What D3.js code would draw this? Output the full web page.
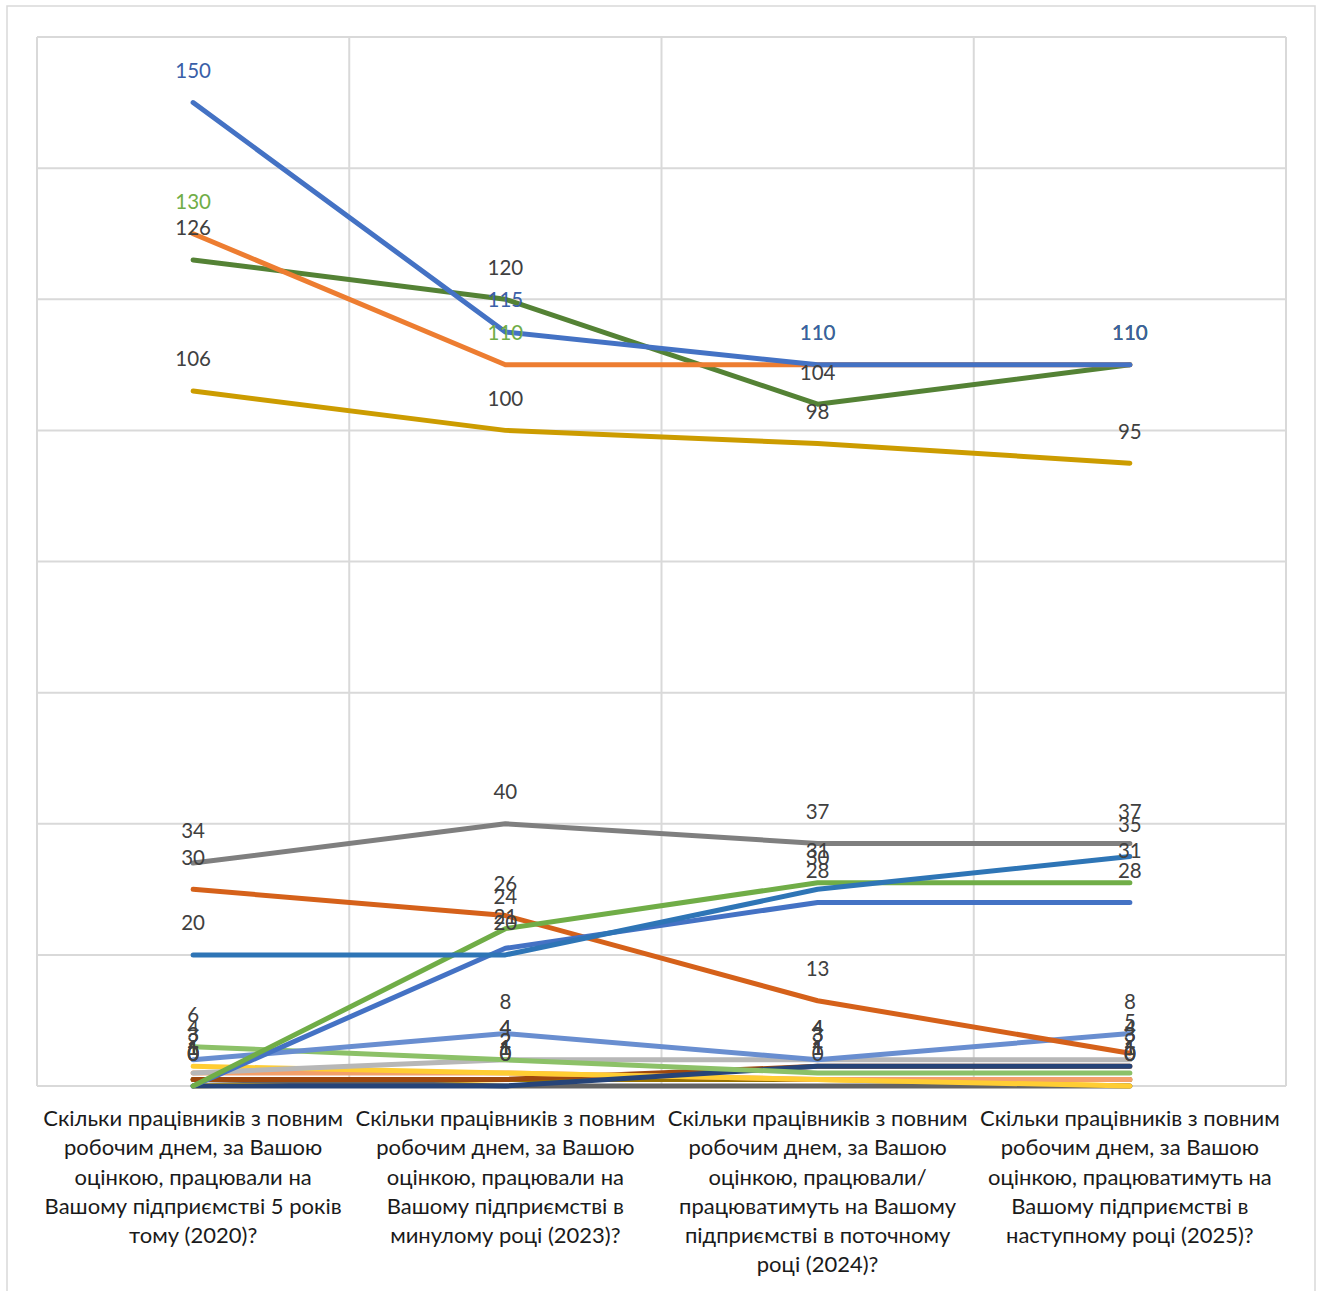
<!DOCTYPE html>
<html>
<head>
<meta charset="utf-8">
<script src="https://cdn.jsdelivr.net/npm/d3@7"></script>
<style>
  html, body { margin: 0; padding: 0; background: #fff; }
  svg { display: block; }
  text { font-family: Lato, "Noto Sans", sans-serif; }
</style>
</head>
<body>
<div id="chart"></div>
<script>
// ---- data ----
const categories = [
  ["Скільки працівників з повним", "робочим днем, за Вашою", "оцінкою, працювали на", "Вашому підприємстві 5 років", "тому (2020)?"],
  ["Скільки працівників з повним", "робочим днем, за Вашою", "оцінкою, працювали на", "Вашому підприємстві в", "минулому році (2023)?"],
  ["Скільки працівників з повним", "робочим днем, за Вашою", "оцінкою, працювали/", "працюватимуть на Вашому", "підприємстві в поточному", "році (2024)?"],
  ["Скільки працівників з повним", "робочим днем, за Вашою", "оцінкою, працюватимуть на", "Вашому підприємстві в", "наступному році (2025)?"]
];

const yTicks = [0, 20, 40, 60, 80, 100, 120, 140, 160];

// series values (one array per series)
const seriesA = [150, 115, 110, 110];
const seriesB = [130, 110, 110, 110];
const seriesC = [126, 120, 104, 110];
const seriesD = [106, 100, 98, 95];
const seriesE = [34, 40, 37, 37];
const seriesF = [30, 26, 13, 5];
const seriesG = [20, 20, 30, 35];
const seriesH = [0, 24, 31, 31];
const seriesI = [0, 21, 28, 28];
const seriesJ = [4, 8, 4, 8];
const seriesK = [6, 4, 2, 2];
const seriesL = [2, 4, 4, 4];
const seriesM = [3, 2, 1, 0];
const seriesN = [2, 2, 1, 1];
const seriesO = [1, 1, 3, 3];
const seriesP = [0, 0, 3, 3];
const seriesQ = [1, 1, 1, 1];
const seriesR = [1, 0, 0, 0];
const seriesS = [0, 1, 1, 0];

// drawing order (first drawn = bottom) with colours kept separately
const seriesList = [
  { values: seriesS, color: "#FFC000", label: "#404040" },
  { values: seriesR, color: "#636363", label: "#404040" },
  { values: seriesQ, color: "#997300", label: "#404040" },
  { values: seriesO, color: "#9E480E", label: "#404040" },
  { values: seriesN, color: "#F4A06A", label: "#404040" },
  { values: seriesM, color: "#FFCD33", label: "#404040" },
  { values: seriesP, color: "#264478", label: "#404040" },
  { values: seriesL, color: "#B7B7B7", label: "#404040" },
  { values: seriesK, color: "#8CC168", label: "#404040" },
  { values: seriesJ, color: "#698ED0", label: "#404040" },
  { values: seriesF, color: "#D5611A", label: "#404040" },
  { values: seriesI, color: "#4472C4", label: "#404040" },
  { values: seriesH, color: "#70AD47", label: "#404040" },
  { values: seriesG, color: "#2E75B6", label: "#404040" },
  { values: seriesE, color: "#7F7F7F", label: "#404040" },
  { values: seriesD, color: "#CC9C00", label: "#404040" },
  { values: seriesC, color: "#548235", label: "#404040" },
  { values: seriesB, color: "#ED7D31", label: "#70AD47" },
  { values: seriesA, color: "#4472C4", label: "#3A5FA8" }
];

// ---- layout ----
const W = 1319, H = 1291;
const plot = { left: 37, top: 37, right: 1286, bottom: 1086 };

const svg = d3.select("#chart").append("svg")
  .attr("width", W).attr("height", H);

svg.append("rect").attr("width", W).attr("height", H).attr("fill", "#fff");

// outer chart border
svg.append("rect")
  .attr("x", 7).attr("y", 6)
  .attr("width", 1315 - 7).attr("height", 1300)
  .attr("fill", "none").attr("stroke", "#D9D9D9").attr("stroke-width", 1.5);

const x = d3.scaleBand()
  .domain(d3.range(categories.length))
  .range([plot.left, plot.right])
  .paddingInner(0).paddingOuter(0);

const y = d3.scaleLinear()
  .domain([0, 160])
  .range([plot.bottom, plot.top]);

const cx = i => x(i) + x.bandwidth() / 2;

// gridlines
const grid = svg.append("g");
grid.selectAll("line.h").data(yTicks).join("line")
  .attr("x1", plot.left).attr("x2", plot.right)
  .attr("y1", d => y(d)).attr("y2", d => y(d))
  .attr("stroke", "#D9D9D9").attr("stroke-width", 2);

const vBounds = d3.range(categories.length + 1).map(i => i < categories.length ? x(i) : plot.right);
grid.selectAll("line.v").data(vBounds).join("line")
  .attr("x1", d => d).attr("x2", d => d)
  .attr("y1", plot.top).attr("y2", plot.bottom)
  .attr("stroke", "#D9D9D9").attr("stroke-width", 2);

// lines
const line = d3.line()
  .x((d, i) => cx(i))
  .y(d => y(d));

svg.append("g").selectAll("path").data(seriesList).join("path")
  .attr("d", s => line(s.values))
  .attr("fill", "none")
  .attr("stroke", s => s.color)
  .attr("stroke-width", 5)
  .attr("stroke-linejoin", "round")
  .attr("stroke-linecap", "round");

// data labels (above points)
const labels = svg.append("g");
seriesList.forEach(s => {
  labels.append("g").selectAll("text").data(s.values).join("text")
    .attr("x", (d, i) => cx(i))
    .attr("y", d => y(d) - 32)
    .attr("dy", "0.36em")
    .attr("text-anchor", "middle")
    .attr("font-size", 20.5)
    .attr("fill", s.label)
    .text(d => d);
});

// category axis labels
const axis = svg.append("g");
categories.forEach((lines, i) => {
  axis.append("g").selectAll("text").data(lines).join("text")
    .attr("x", cx(i))
    .attr("y", (d, k) => 1118 + k * 29.3)
    .attr("dy", "0.36em")
    .attr("text-anchor", "middle")
    .attr("font-size", 22)
    .attr("fill", "#1A1A1A")
    .text(d => d);
});
</script>
</body>
</html>
